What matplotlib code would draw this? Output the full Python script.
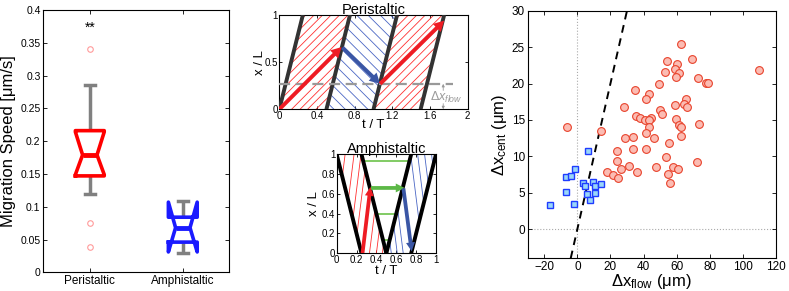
import matplotlib
matplotlib.use('Agg')
import matplotlib.pyplot as plt
from matplotlib.patches import Polygon

plt.rcParams['font.family'] = ['Liberation Sans', 'DejaVu Sans']
plt.rcParams['mathtext.fontset'] = 'custom'
plt.rcParams['mathtext.rm'] = 'Liberation Sans'
plt.rcParams['mathtext.it'] = 'Liberation Sans:italic'

# ---------------- Box plot summary statistics ----------------
box_labels = ['Peristaltic', 'Amphistaltic']
box_q1 = [0.147, 0.046]
box_med = [0.179, 0.068]
box_q3 = [0.216, 0.084]
box_cilo = [0.149, 0.031]
box_cihi = [0.214, 0.107]
box_whislo = [0.119, 0.030]
box_whishi = [0.285, 0.109]
box_fliers = [[0.341, 0.075, 0.039], []]
box_colors = ['#ff0000', '#1a1aff']
signif_text = '**'
signif_y = 0.373

# ---------------- Peristaltic schematic ----------------
peri_wave_start = [0.0, 0.5, 1.0, 1.5]      # t/T of contraction at x=0
peri_wave_end = [0.25, 0.75, 1.25, 1.75]    # t/T of contraction at x=L
peri_red_regions = [0.0, 1.0]
peri_blue_regions = [0.5]
peri_red_offsets = [-0.72, -0.63, -0.54, -0.45, -0.36, -0.27, -0.18,
                    -0.09, 0.0, 0.13, 0.22, 0.30, 0.39]
peri_blue_offsets = [0.58, 0.70, 0.82, 0.94, 1.06, 1.18, 1.30, 1.46,
                     1.58, 1.70, 1.82, 1.94, 2.07, 2.18]
peri_flow_level = 0.27
peri_flow_tmax = 1.84
peri_arrow_t0 = [0.0, 0.67, 1.07]
peri_arrow_x0 = [0.0, 0.655, 0.27]
peri_arrow_t1 = [0.66, 1.07, 1.75]
peri_arrow_x1 = [0.66, 0.27, 0.94]
peri_arrow_col = ['#ee1c24', '#3a56a5', '#ee1c24']

# ---------------- Amphistaltic schematic ----------------
amph_wave_t_top = [0.0, 0.25, 0.75, 1.0]
amph_wave_t_bot = [0.25, 0.5, 0.5, 0.75]
amph_red_offsets = [-0.04, 0.05, 0.12, 0.18, 0.33, 0.40, 0.46]
amph_blue_offsets = [0.55, 0.61, 0.67, 0.87, 0.94, 1.01, 1.08]
amph_green_x = [0.93, 0.40, 0.13]
amph_green_t0 = [0.27, 0.40, 0.47]
amph_green_t1 = [0.73, 0.60, 0.53]
amph_arrow_t0 = [0.26, 0.345, 0.672]
amph_arrow_x0 = [0.0, 0.66, 0.655]
amph_arrow_t1 = [0.34, 0.685, 0.755]
amph_arrow_x1 = [0.67, 0.66, 0.02]
amph_arrow_col = ['#ee1c24', '#5cb846', '#3a56a5']

# ---------------- Scatter data ----------------
peri_dx_flow = [-6.4, 14.3, 62.6, 54.4, 69.0, 60.4, 59.0, 61.2, 59.8, 53.2,
                109.5, 73.0, 77.6, 79.2, 49.2, 35.1, 43.0, 41.7, 65.6, 59.2,
                64.4, 66.0, 28.1, 50.2, 51.4, 35.5, 37.9, 44.2, 40.9, 43.0,
                59.6, 61.4, 62.6, 73.4, 43.1, 41.2, 28.9, 33.5, 46.3, 62.6,
                55.2, 24.1, 33.7, 41.3, 24.1, 53.8, 72.2, 31.1, 47.8, 57.8,
                60.6, 26.3, 17.9, 21.3, 36.3, 55.0, 24.5, 56.2]
peri_dx_cent = [14.0, 13.5, 25.4, 23.1, 23.3, 22.7, 22.0, 21.5, 20.9, 21.6,
                21.8, 20.7, 20.1, 20.1, 20.0, 19.1, 18.6, 17.9, 17.9, 17.1,
                17.2, 16.8, 16.8, 16.3, 15.8, 15.5, 15.2, 15.3, 15.0, 15.0,
                15.1, 14.3, 14.0, 14.5, 14.0, 13.2, 12.5, 12.7, 12.5, 12.8,
                11.8, 10.7, 11.0, 11.0, 9.4, 9.9, 9.2, 8.7, 8.5, 8.6,
                8.2, 8.3, 7.8, 7.4, 7.9, 7.6, 7.0, 6.4]
amph_dx_flow = [-16.8, -6.8, -4.0, -1.2, -6.8, -2.0, 6.4, 3.2, 4.4, 9.2,
                10.8, 14.4, 6.0, 10.8, 7.6]
amph_dx_cent = [3.3, 7.2, 7.3, 8.3, 5.1, 3.5, 10.8, 6.3, 5.9, 6.5,
                5.9, 6.2, 4.8, 5.0, 4.0]
fit_x = [-4.0, 30.0]
fit_y = [-4.0, 30.0]

# =============================================================
fig = plt.figure(figsize=(7.89, 2.91), dpi=100)

def style_axes(ax, size):
    ax.tick_params(direction='in', top=True, right=True, labelsize=size,
                   length=3, width=0.6, pad=2)
    for s in ax.spines.values():
        s.set_linewidth(0.8)

# ---------- Box plot ----------
ax1 = fig.add_axes([0.0549, 0.0643, 0.2357, 0.9014])
stats = []
for i in range(len(box_labels)):
    stats.append(dict(med=box_med[i], q1=box_q1[i], q3=box_q3[i],
                      cilo=box_cilo[i], cihi=box_cihi[i],
                      whislo=box_whislo[i], whishi=box_whishi[i],
                      fliers=box_fliers[i], label=box_labels[i]))
bp = ax1.bxp(stats, positions=[1, 2], widths=0.31, capwidths=0.11,
             shownotches=True, patch_artist=False,
             whiskerprops=dict(color='#808080', lw=2.5, solid_capstyle='butt'),
             capprops=dict(color='#808080', lw=2.5),
             flierprops=dict(marker='o', mfc='none', mec='#ff9a9a', ms=4, mew=0.8))
for i, c in enumerate(box_colors):
    bp['boxes'][i].set_color(c)
    bp['boxes'][i].set_linewidth(2.6)
    bp['boxes'][i].set_zorder(3)
    bp['medians'][i].set_color(c)
    bp['medians'][i].set_linewidth(3.5)
    bp['medians'][i].set_zorder(3)
ax1.set_xlim(0.5, 2.5)
ax1.set_ylim(0, 0.4)
ax1.set_yticks([0, 0.05, 0.1, 0.15, 0.2, 0.25, 0.3, 0.35, 0.4])
ax1.set_yticklabels(['0', '0.05', '0.1', '0.15', '0.2', '0.25', '0.3', '0.35', '0.4'])
ax1.set_xticks([1, 2])
ax1.set_xticklabels(box_labels, fontsize=8.5)
ax1.set_ylabel('Migration Speed [μm/s]', fontsize=12, labelpad=3)
ax1.text(1, signif_y, signif_text, ha='center', va='center', fontsize=10)
style_axes(ax1, 7.5)
ax1.tick_params(axis='x', labelsize=8.5)

# ---------- Peristaltic ----------
ax2 = fig.add_axes([0.354, 0.6244, 0.2388, 0.324])
ax2.set_xlim(0, 2)
ax2.set_ylim(0, 1)
for a in peri_red_regions:
    poly = Polygon([(a, 0), (a + 0.25, 1), (a + 0.75, 1), (a + 0.5, 0)],
                   closed=True, transform=ax2.transData)
    for c in peri_red_offsets:
        ln, = ax2.plot([a + c, a + c + 1], [0, 1], color='#ff3030', lw=0.6)
        ln.set_clip_path(poly)
for a in peri_blue_regions:
    poly = Polygon([(a, 0), (a + 0.25, 1), (a + 0.75, 1), (a + 0.5, 0)],
                   closed=True, transform=ax2.transData)
    for d in peri_blue_offsets:
        ln, = ax2.plot([d, d - 1], [0, 1], color='#4a66c4', lw=0.6)
        ln.set_clip_path(poly)
for t0, t1 in zip(peri_wave_start, peri_wave_end):
    ax2.plot([t0, t1], [0, 1], color='#333333', lw=2.8, solid_capstyle='butt', zorder=4)
ax2.plot([0, peri_flow_tmax], [peri_flow_level, peri_flow_level], color='#999999',
         lw=1.6, dashes=(5, 2.5), zorder=5)
for t0, x0, t1, x1, c in zip(peri_arrow_t0, peri_arrow_x0, peri_arrow_t1,
                             peri_arrow_x1, peri_arrow_col):
    ax2.arrow(t0, x0, t1 - t0, x1 - x0, width=0.042, head_width=0.12,
              head_length=0.11, length_includes_head=True, color=c, lw=0, zorder=6)
ax2.text(1.6, 0.125, r'$\Delta x_{flow}$', color='#9a9a9a', fontsize=9,
         ha='left', va='center', zorder=7)
ax2.annotate('', xy=(1.74, peri_flow_level), xytext=(1.74, 0.2),
             arrowprops=dict(arrowstyle='-|>', color='#9a9a9a', lw=0.6,
                             mutation_scale=4, shrinkA=0, shrinkB=0))
ax2.annotate('', xy=(1.74, 0.0), xytext=(1.74, 0.06),
             arrowprops=dict(arrowstyle='-|>', color='#9a9a9a', lw=0.6,
                             mutation_scale=4, shrinkA=0, shrinkB=0))
ax2.set_xticks([0, 0.4, 0.8, 1.2, 1.6, 2])
ax2.set_xticklabels(['0', '0.4', '0.8', '1.2', '1.6', '2'])
ax2.set_yticks([0, 0.5, 1])
ax2.set_yticklabels(['0', '0.5', '1'])
ax2.set_title('Peristaltic', fontsize=10.5, pad=1)
ax2.set_xlabel('t / T', fontsize=9.5, labelpad=-1)
ax2.set_ylabel('x / L', fontsize=9.5, labelpad=-1)
style_axes(ax2, 7)
ax2.tick_params(length=2.5, pad=1)

# ---------- Amphistaltic ----------
ax3 = fig.add_axes([0.4267, 0.1296, 0.1259, 0.3402])
ax3.set_xlim(0, 1)
ax3.set_ylim(0, 1)
poly_r = Polygon([(0, 1), (0.25, 0), (0.5, 0), (0.25, 1)], closed=True,
                 transform=ax3.transData)
for c in amph_red_offsets:
    ln, = ax3.plot([c, c + 0.125], [0, 1], color='#ff3030', lw=0.6)
    ln.set_clip_path(poly_r)
poly_b = Polygon([(0.5, 0), (0.75, 1), (1, 1), (0.75, 0)], closed=True,
                 transform=ax3.transData)
for d in amph_blue_offsets:
    ln, = ax3.plot([d, d - 0.125], [0, 1], color='#4a66c4', lw=0.6)
    ln.set_clip_path(poly_b)
for xg, g0, g1 in zip(amph_green_x, amph_green_t0, amph_green_t1):
    ax3.plot([g0, g1], [xg, xg], color='#6cc24a', lw=1.2, zorder=3)
for tt, tb in zip(amph_wave_t_top, amph_wave_t_bot):
    ax3.plot([tt, tb], [1, 0], color='black', lw=2.8, zorder=4)
for t0, x0, t1, x1, c in zip(amph_arrow_t0, amph_arrow_x0, amph_arrow_t1,
                             amph_arrow_x1, amph_arrow_col):
    ax3.arrow(t0, x0, t1 - t0, x1 - x0, width=0.038, head_width=0.09,
              head_length=0.09, length_includes_head=True, color=c, lw=0, zorder=6)
ax3.set_xticks([0, 0.2, 0.4, 0.6, 0.8, 1])
ax3.set_xticklabels(['0', '0.2', '0.4', '0.6', '0.8', '1'])
ax3.set_yticks([0, 0.2, 0.4, 0.6, 0.8, 1])
ax3.set_yticklabels(['0', '0.2', '0.4', '0.6', '0.8', '1'])
ax3.set_title('Amphistaltic', fontsize=10.5, pad=1)
ax3.set_xlabel('t / T', fontsize=9.5, labelpad=0)
ax3.set_ylabel('x / L', fontsize=9.5, labelpad=1)
style_axes(ax3, 7)
ax3.tick_params(length=2.5, pad=1)

# ---------- Scatter ----------
ax4 = fig.add_axes([0.6688, 0.1124, 0.3147, 0.8509])
ax4.axvline(0, color='#aaaaaa', lw=0.8, ls=':', zorder=1)
ax4.axhline(0, color='#aaaaaa', lw=0.8, ls=':', zorder=1)
ax4.plot(fit_x, fit_y, color='black', lw=1.4, dashes=(4, 3), zorder=2)
ax4.plot(peri_dx_flow, peri_dx_cent, ls='none', marker='o', ms=5.6,
         mfc='#fbbcb3', mec='#e8432c', mew=0.8, zorder=3)
ax4.plot(amph_dx_flow, amph_dx_cent, ls='none', marker='s', ms=4.3,
         mfc='#9ad6f8', mec='#1f3cff', mew=1.0, zorder=4)
ax4.set_xlim(-30, 120)
ax4.set_ylim(-4, 30)
ax4.set_xticks([-20, 0, 20, 40, 60, 80, 100, 120])
ax4.set_xticklabels(['\u221220', '0', '20', '40', '60', '80', '100', '120'])
ax4.set_yticks([0, 5, 10, 15, 20, 25, 30])
ax4.set_xlabel('$\\Delta$x$_{\\rm flow}$ (μm)', fontsize=12, labelpad=-1)
ax4.set_ylabel('$\\Delta$x$_{\\rm cent}$ (μm)', fontsize=12, labelpad=2)
style_axes(ax4, 8.5)

fig.savefig('out.png', dpi=100)
